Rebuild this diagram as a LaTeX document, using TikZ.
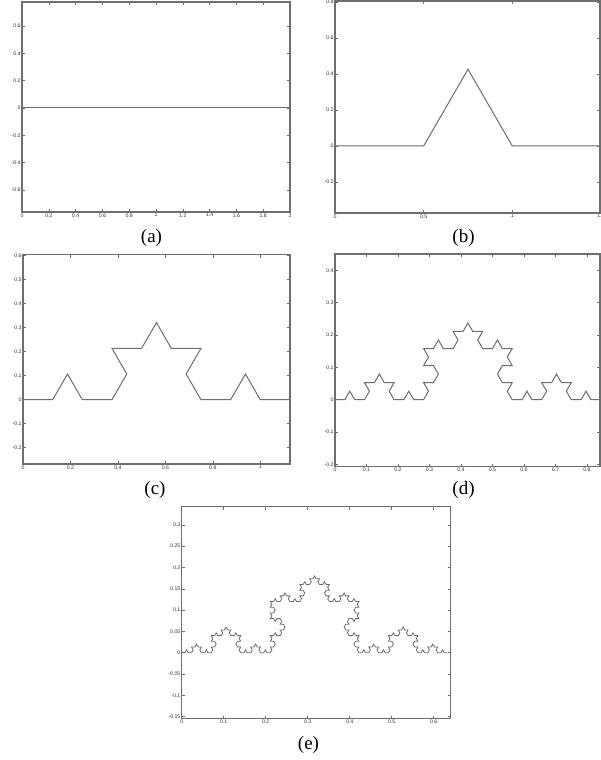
\documentclass[tikz,border=0pt]{standalone}
\usepackage{fontspec}
\setmainfont{Liberation Serif}
\newfontfamily\tickfont{Liberation Sans}
\usetikzlibrary{lindenmayersystems}
\pgfdeclarelindenmayersystem{kochup}{\rule{F -> F+F--F+F}}
\definecolor{ln}{RGB}{110,110,110}
\tikzset{
  frame/.style={draw=ln, line width=1.1pt},
  curve/.style={draw=ln, line width=1pt, line join=miter},
  tk/.style={draw=ln, line width=0.6pt},
  tl/.style={font=\tickfont\fontsize{5.2}{6}\selectfont, text=black!80, inner sep=1.2pt},
  captext/.style={font=\fontsize{19}{22}\selectfont, inner sep=0pt},
}
% #1 x0, #2 sx, #3 bottom, #4 top, #5 list, #6 name prefix
\newcommand\kxticks[6]{%
  \foreach \v [count=\i] in {#5} {%
    \pgfmathsetmacro\px{#1+(\v)*#2}%
    \draw[tk] (\px,#3) -- ++(0,3) (\px,#4) -- ++(0,-3);
    \node[tl,below] (#6x\i) at (\px,#3) {\v};
  }}
% #1 y0, #2 sy, #3 left, #4 right, #5 list, #6 name prefix
\newcommand\kyticks[6]{%
  \foreach \v [count=\i] in {#5} {%
    \pgfmathsetmacro\py{#1+(\v)*#2}%
    \draw[tk] (#3,\py) -- ++(3,0) (#4,\py) -- ++(-3,0);
    \node[tl,left] (#6y\i) at (#3,\py) {\v};
  }}
\begin{document}
\begin{tikzpicture}[x=1pt,y=1pt]
\useasboundingbox (0,0) rectangle (601,760);
\fill[white] (0,0) rectangle (601,760);

% ---------- (a) ----------
\kxticks{22}{134}{548}{758}{0,0.2,0.4,0.6,0.8,1,1.2,1.4,1.6,1.8,2}{a}
\kyticks{652}{136.5}{22}{290}{-0.6,-0.4,-0.2,0,0.2,0.4,0.6}{a}
\draw[curve] (22,652) -- (290,652);
\draw[frame] (22,548) rectangle (290,758);
\node[captext] (capa) at (151.5,522.5) {(a)};

% ---------- (b) ----------
\kxticks{335}{177.3}{547}{759}{0,0.5,1,1.5}{b}
\kyticks{614}{180}{335}{600}{-0.2,0,0.2,0.4,0.6,0.8}{b}
\draw[curve, shift={(335,614)}, l-system={kochup, axiom=F, order=1, step=88.65pt, angle=60}] lindenmayer system;
\draw[frame] (335,547) rectangle (600,759);
\node[captext] (capb) at (463.5,522.5) {(b)};

% ---------- (c) ----------
\kxticks{23}{237.3}{296}{505.3}{0,0.2,0.4,0.6,0.8,1}{c}
\kyticks{360.3}{240}{23}{290}{-0.2,-0.1,0,0.1,0.2,0.3,0.4,0.5,0.6}{c}
\draw[curve, shift={(23,360.3)}, l-system={kochup, axiom=F, order=2, step=29.66pt, angle=60}] lindenmayer system;
\draw[frame] (23,296) rectangle (290,505.3);
\node[captext] (capc) at (155,270) {(c)};

% ---------- (d) ----------
\kxticks{335}{315}{293.3}{506}{0,0.1,0.2,0.3,0.4,0.5,0.6,0.7,0.8}{d}
\kyticks{360.3}{323}{335}{600}{-0.2,-0.1,0,0.1,0.2,0.3,0.4}{d}
\draw[curve, shift={(335,360.3)}, l-system={kochup, axiom=F, order=3, step=9.844pt, angle=60}] lindenmayer system;
\draw[frame] (335,293.3) rectangle (600,506);
\node[captext] (capd) at (463.5,270) {(d)};

% ---------- (e) ----------
\kxticks{181.7}{420}{41.3}{253.3}{0,0.1,0.2,0.3,0.4,0.5,0.6}{e}
\kyticks{107.3}{426}{181.7}{450.7}{-0.15,-0.1,-0.05,0,0.05,0.1,0.15,0.2,0.25,0.3}{e}
\draw[curve, line width=0.8pt, shift={(181.7,107.3)}, l-system={kochup, axiom=F, order=4, step=3.281pt, angle=60}] lindenmayer system;
\draw[frame] (181.7,41.3) rectangle (450.7,253.3);
\node[captext] (cape) at (308.5,15) {(e)};
\end{tikzpicture}
\end{document}
